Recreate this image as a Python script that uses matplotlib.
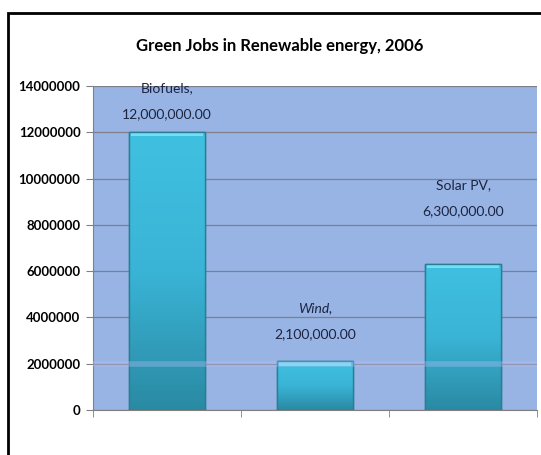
import numpy as np
import matplotlib.pyplot as plt
from matplotlib.patches import Rectangle
from matplotlib.colors import LinearSegmentedColormap

# Green jobs by renewable sector, 2006
sectors = ['Biofuels', 'Wind', 'Solar PV']
jobs = [12000000, 2100000, 6300000]
yticks = [0, 2000000, 4000000, 6000000, 8000000, 10000000, 12000000, 14000000]

font = ['Lato', 'DejaVu Sans']

fig = plt.figure(figsize=(5.41, 4.55), dpi=100)
fig.patch.set_facecolor('white')
ax = fig.add_axes([93 / 541, 1 - 410 / 455, (537 - 93) / 541, (410 - 86) / 455])
ax.set_facecolor('#98b4e4')

x = np.arange(len(sectors))
bars = ax.bar(x, jobs, width=0.51, color='#3cb8da', edgecolor='#2a7d92',
              linewidth=1.0, zorder=3)

# vertical gradient plus a light bevel along the top of each bar
grad = LinearSegmentedColormap.from_list('bar', ['#2a8aa4', '#3ab4d6', '#40c0e0'])
for b in bars:
    bx, bw, bh = b.get_x(), b.get_width(), b.get_height()
    img = ax.imshow(np.linspace(0, 1, 100).reshape(-1, 1), cmap=grad,
                    extent=[bx, bx + bw, 0, bh], origin='lower',
                    aspect='auto', zorder=3.5)
    img.set_clip_path(b)
    ax.add_patch(Rectangle((bx + 0.01, bh - 180000), bw - 0.02, 180000,
                           facecolor='#72e0f2', edgecolor='none', zorder=3.6))
    ax.add_patch(Rectangle((bx, 0), bw, bh, facecolor='none',
                           edgecolor='#2a7d92', linewidth=1.0, zorder=3.8))

ax.set_xlim(-0.5, len(sectors) - 0.5)
ax.set_ylim(0, 14000000)
ax.set_yticks(yticks)
ax.set_yticklabels([str(v) for v in yticks], family=font,
                   fontweight='bold', fontsize=9.5, color='black')
ax.set_xticks(x)
ax.set_xticklabels(sectors, color='white', fontsize=10, family=font)
ax.set_xticks(np.arange(-0.5, len(sectors)), minor=True)
ax.tick_params(axis='x', which='major', length=0, pad=12)
ax.tick_params(axis='x', which='minor', length=5, color='#808080')
ax.tick_params(axis='y', length=5, color='#808080', pad=4)

ax.grid(axis='y', color='#7f7f8a', linewidth=0.9, zorder=1)
ax.axhline(2000000, color='#b8c0f8', linewidth=4, alpha=0.35, zorder=4)
for side in ['top', 'right']:
    ax.spines[side].set_visible(False)
for side in ['left', 'bottom']:
    ax.spines[side].set_color('#808080')

# value labels above the bars
offsets = [1900000, 2290000, 3410000]
for i, (name, v) in enumerate(zip(sectors, jobs)):
    style = 'italic' if name == 'Wind' else 'normal'
    top = v + offsets[i]
    ax.text(i, top, name + ',', ha='center', va='center', fontsize=10,
            family=font, style=style, color='#1c2440', zorder=5)
    ax.text(i, top - 1100000, f'{v:,.2f}', ha='center', va='center',
            fontsize=10, family=font, color='#1c2440', zorder=5)

fig.text(280 / 541, 1 - 46 / 455, 'Green Jobs in Renewable energy, 2006',
         ha='center', va='center', fontsize=12, fontweight='bold',
         family=font, color='black')

# chart frame
fig.add_artist(Rectangle((8 / 541, -0.1), 1.2, 1.1 - 13 / 455,
                         transform=fig.transFigure, facecolor='none',
                         edgecolor='black', linewidth=2))

fig.savefig('out.png', dpi=100)
